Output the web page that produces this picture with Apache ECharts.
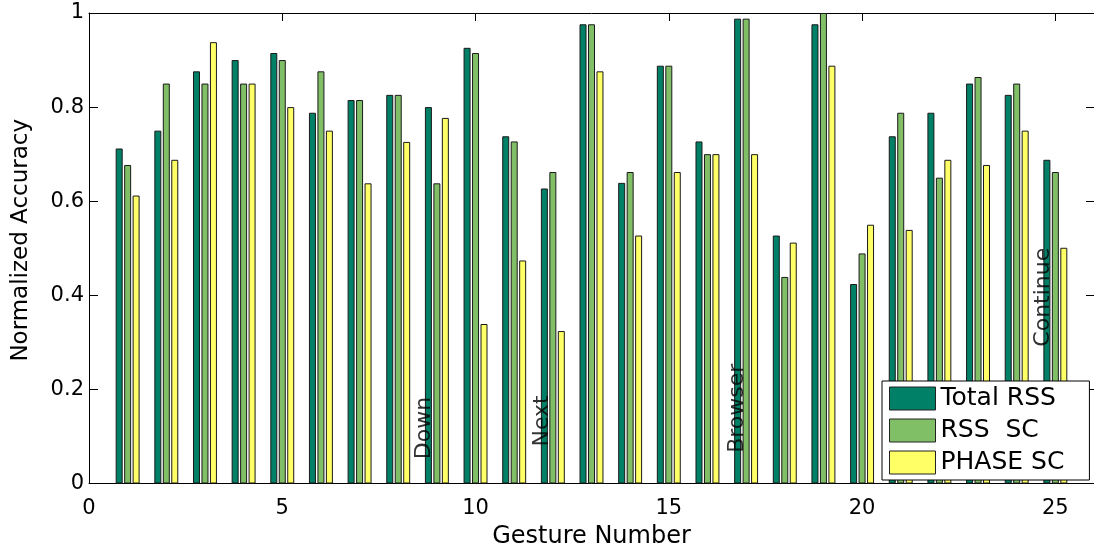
<!DOCTYPE html>
<html>
<head>
<meta charset="utf-8">
<script src="https://cdn.jsdelivr.net/npm/echarts@6/dist/echarts.min.js"></script>
<style>html,body{margin:0;padding:0;background:#fff;}#c{width:1094px;height:547px;}</style>
</head>
<body>
<div id="c"></div>
<script>
const categories = ['0','1','2','3','4','5','6','7','8','9','10','11','12','13','14','15','16','17','18','19','20','21','22','23','24','25','26'];
const gestures = ['1','2','3','4','5','6','7','8','9','10','11','12','13','14','15','16','17','18','19','20','21','22','23','24','25'];
const totalRss = [0.712,0.750,0.876,0.900,0.915,0.788,0.815,0.826,0.800,0.926,0.738,0.627,0.976,0.639,0.888,0.727,0.988,0.527,0.976,0.424,0.738,0.788,0.850,0.826,0.688];
const rssSc    = [0.677,0.850,0.850,0.850,0.900,0.876,0.815,0.826,0.638,0.915,0.727,0.662,0.976,0.662,0.888,0.700,0.988,0.439,1.000,0.489,0.788,0.650,0.864,0.850,0.662];
const phaseSc  = [0.612,0.688,0.938,0.850,0.800,0.750,0.638,0.726,0.777,0.339,0.474,0.324,0.876,0.527,0.662,0.700,0.700,0.512,0.888,0.550,0.539,0.688,0.677,0.750,0.501];
const seriesNames = ['Total RSS','RSS  SC','PHASE SC'];
const noteText = ['Down','Next','Browser','Continue'];
const noteX = [8.68, 11.73, 16.76, 24.7];
const noteY = [0.118, 0.133, 0.16, 0.396];

const FONT = 'DejaVu Sans';
const chart = echarts.init(document.getElementById('c'), null, {renderer:'canvas'});
const axisLineStyle = {color:'#000', width:1};
function barSeries(name, vals, color){
  return {
    name, type:'bar', xAxisIndex:0, yAxisIndex:0,
    barWidth:7, barGap:'21%',
    itemStyle:{color, borderColor:'#1a1a1a', borderWidth:1},
    data: gestures.map((g,i)=>[g, vals[i]]),
    animation:false
  };
}
chart.setOption({
  animation:false,
  grid:{left:89, right:0, top:13, bottom:63.5, containLabel:false, outerBoundsMode:'none'},
  legend:{
    data:seriesNames, orient:'vertical', left:882, top:381,
    itemWidth:46, itemHeight:23, itemGap:7,
    padding:[5,25,5,7],
    backgroundColor:'#fff', borderColor:'#000', borderWidth:1, borderRadius:0,
    icon:'rect',
    itemStyle:{borderColor:'#222', borderWidth:1},
    textStyle:{fontFamily:FONT, fontSize:25, color:'#000'}
  },
  xAxis:[
    {type:'category', data:categories, boundaryGap:false, position:'bottom',
     axisLine:{show:true, onZero:false, lineStyle:axisLineStyle},
     axisTick:{show:true, inside:true, interval:4, length:8, lineStyle:axisLineStyle},
     axisLabel:{interval:4, margin:15, fontFamily:FONT, fontSize:21, color:'#000'},
     splitLine:{show:false},
     name:'Gesture Number', nameLocation:'middle', nameGap:37,
     nameTextStyle:{fontFamily:FONT, fontSize:24, color:'#000'}},
    {type:'category', data:categories, boundaryGap:false, position:'top',
     axisLine:{show:true, onZero:false, lineStyle:axisLineStyle},
     axisTick:{show:true, inside:true, interval:4, length:8, lineStyle:axisLineStyle},
     axisLabel:{show:false}, splitLine:{show:false}},
    {type:'value', min:0, max:26, show:false, position:'bottom', axisLine:{onZero:false}}
  ],
  yAxis:[
    {type:'value', min:0, max:1, interval:0.2, position:'left',
     axisLine:{show:true, onZero:false, lineStyle:axisLineStyle},
     axisTick:{show:true, inside:true, length:9, lineStyle:axisLineStyle},
     axisLabel:{margin:5, fontFamily:FONT, fontSize:21, color:'#000'},
     splitLine:{show:false},
     name:'Normalized Accuracy', nameLocation:'middle', nameGap:56,
     nameTextStyle:{fontFamily:FONT, fontSize:23, color:'#000', padding:[0,0,0,16]}},
    {type:'value', min:0, max:1, interval:0.2, position:'right',
     axisLine:{show:true, onZero:false, lineStyle:axisLineStyle},
     axisTick:{show:true, inside:true, length:8, lineStyle:axisLineStyle},
     axisLabel:{show:false}, splitLine:{show:false}}
  ],
  series:[
    barSeries(seriesNames[0], totalRss, '#008066'),
    barSeries(seriesNames[1], rssSc, '#80bf66'),
    barSeries(seriesNames[2], phaseSc, '#ffff66'),
    {type:'scatter', xAxisIndex:2, yAxisIndex:0, symbolSize:0, z:5,
     data: noteText.map((t,i)=>({name:t, value:[noteX[i], noteY[i]]})),
     label:{show:true, position:'inside', rotate:90, formatter:p=>p.name,
            fontFamily:FONT, fontSize:22, color:'#000', align:'center', verticalAlign:'middle'},
     silent:true, animation:false}
  ]
});
</script>
</body>
</html>
